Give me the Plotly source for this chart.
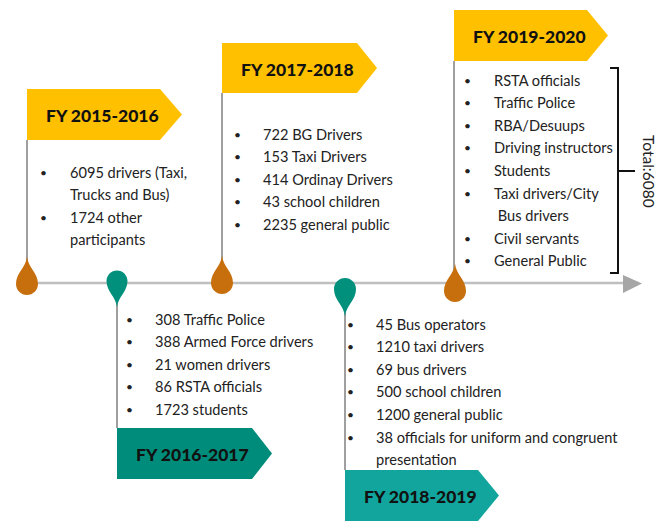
import plotly.graph_objects as go

# ---------------- data ----------------
periods = ["FY 2015-2016", "FY 2016-2017", "FY 2017-2018", "FY 2018-2019", "FY 2019-2020"]

items_2015 = [["6095 drivers (Taxi,", "Trucks and Bus)"], ["1724 other", "participants"]]
items_2016 = [["308 Traffic Police"], ["388 Armed Force drivers"], ["21 women drivers"],
              ["86 RSTA officials"], ["1723 students"]]
items_2017 = [["722 BG Drivers"], ["153 Taxi Drivers"], ["414 Ordinay Drivers"],
              ["43 school children"], ["2235 general public"]]
items_2018 = [["45 Bus operators"], ["1210 taxi drivers"], ["69 bus drivers"],
              ["500 school children"], ["1200 general public"],
              ["38 officials for uniform and congruent", "presentation"]]
items_2019 = [["RSTA officials"], ["Traffic Police"], ["RBA/Desuups"], ["Driving instructors"],
              ["Students"], ["Taxi drivers/City", " Bus drivers"], ["Civil servants"],
              ["General Public"]]
items = [items_2015, items_2016, items_2017, items_2018, items_2019]
total_label = "Total:6080"

# ---------------- layout / style ----------------
W, H = 667, 530
PAGE_OFF = 8  # default body margin of the html page
ORANGE = "#C76F0C"
TEAL_DROP = "#00907C"
YELLOW = "#FFC000"
TEAL1 = "#008C7A"
TEAL2 = "#12A59D"
BODY_FONT = "Lato, sans-serif"
LINE_H = 22.6

geo = [
    dict(banner=(27, 89, 160, 140, 182), col=YELLOW, drop=(27, 284, 11, True), dcol=ORANGE,
         conn=(27, 140, 262), txt=(43, 68, 172)),
    dict(banner=(117, 428, 252, 479, 272), col=TEAL1, drop=(117, 281, 10.5, False), dcol=TEAL_DROP,
         conn=(117, 300, 428), txt=(129, 153, 319)),
    dict(banner=(222, 43, 357, 93, 377), col=YELLOW, drop=(222, 283, 11, True), dcol=ORANGE,
         conn=(222, 93, 265), txt=(237, 261, 134)),
    dict(banner=(345, 470, 478, 521, 499), col=TEAL2, drop=(345, 289, 11, False), dcol=TEAL_DROP,
         conn=(345, 305, 470), txt=(350, 374, 324)),
    dict(banner=(454, 10, 587, 61, 608), col=YELLOW, drop=(455, 291, 11, True), dcol=ORANGE,
         conn=(454, 61, 270), txt=(467, 492, 80)),
]

shapes = []
annotations = []

shapes.append(dict(type="line", x0=20, x1=624, y0=283, y1=283,
                   line=dict(color="#BFBFBF", width=2.5), layer="below"))
shapes.append(dict(type="path", path="M 623,275 L 642,283.5 L 623,293 Z",
                   fillcolor="#A6A6A6", line=dict(width=0)))


def drop_path(cx, cy, r, up):
    s = -1 if up else 1
    tip = cy + s * 2.5 * r
    return (f"M {cx},{tip} "
            f"C {cx + 0.1 * r},{cy + s * 1.5 * r} {cx + r},{cy + s * 1.0 * r} {cx + r},{cy} "
            f"C {cx + r},{cy - s * 0.55 * r} {cx + 0.55 * r},{cy - s * r} {cx},{cy - s * r} "
            f"C {cx - 0.55 * r},{cy - s * r} {cx - r},{cy - s * 0.55 * r} {cx - r},{cy} "
            f"C {cx - r},{cy + s * 1.0 * r} {cx - 0.1 * r},{cy + s * 1.5 * r} {cx},{tip} Z")


for name, its, g in zip(periods, items, geo):
    x, ya, yb = g["conn"]
    shapes.append(dict(type="line", x0=x, x1=x, y0=ya, y1=yb,
                       line=dict(color="#404040", width=1)))
    cx, cy, r, up = g["drop"]
    shapes.append(dict(type="path", path=drop_path(cx, cy, r, up),
                       fillcolor=g["dcol"], line=dict(width=0)))
    x0, y0, x1, y1, tip = g["banner"]
    ym = (y0 + y1) / 2
    shapes.append(dict(type="path",
                       path=f"M {x0},{y0} L {x1},{y0} L {tip},{ym} L {x1},{y1} L {x0},{y1} Z",
                       fillcolor=g["col"], line=dict(width=0)))
    annotations.append(dict(x=x0 + 17, y=ym + 1, text=name,
                            showarrow=False, xanchor="left", yanchor="middle",
                            font=dict(family=BODY_FONT, size=17.5, weight=900, color="#111111")))
    bx, tx, y = g["txt"]
    for item in its:
        for k, line in enumerate(item):
            if k == 0:
                annotations.append(dict(x=bx, y=y, text="•", showarrow=False,
                                        xanchor="center", yanchor="middle",
                                        font=dict(family=BODY_FONT, size=12, color="#222222")))
            annotations.append(dict(x=tx, y=y, text=line, showarrow=False,
                                    xanchor="left", yanchor="middle",
                                    font=dict(family=BODY_FONT, size=14.6, color="#222222")))
            y += LINE_H

shapes.append(dict(type="path", path="M 610,68 L 618,68 L 618,273 L 610,273",
                   line=dict(color="#111111", width=2)))
shapes.append(dict(type="line", x0=618, x1=635, y0=171, y1=171,
                   line=dict(color="#111111", width=2)))
annotations.append(dict(x=649, y=171, text=total_label, textangle=90, showarrow=False,
                        xanchor="center", yanchor="middle",
                        font=dict(family=BODY_FONT, size=15.5, color="#222222")))

fig = go.Figure()
fig.add_trace(go.Scatter(x=[PAGE_OFF, W], y=[PAGE_OFF, H], mode="markers",
                         marker=dict(opacity=0), hoverinfo="skip", showlegend=False))
fig.update_layout(
    width=W, height=H, margin=dict(l=0, r=0, t=0, b=0),
    paper_bgcolor="white", plot_bgcolor="white",
    xaxis=dict(range=[PAGE_OFF, W + PAGE_OFF], visible=False, fixedrange=True),
    yaxis=dict(range=[H + PAGE_OFF, PAGE_OFF], visible=False, fixedrange=True),
    shapes=shapes, annotations=annotations, showlegend=False,
)
fig.write_html("out.html")
